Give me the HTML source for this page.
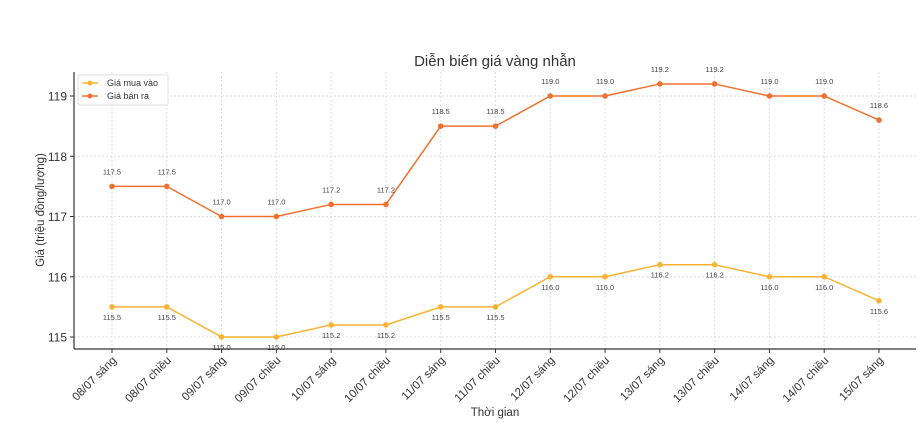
<!DOCTYPE html>
<html><head><meta charset="utf-8"><style>
body{margin:0;background:#fff}
svg{display:block;font-family:"Liberation Sans","DejaVu Sans",sans-serif}
</style></head><body>
<svg id="chart" width="922" height="422">
<text x="495" y="66" text-anchor="middle" font-size="15" fill="#333">Diễn biến giá vàng nhẫn</text>
<text x="495" y="416" text-anchor="middle" font-size="11.5" fill="#333">Thời gian</text>
<text transform="translate(44,210) rotate(-90)" text-anchor="middle" font-size="11.5" fill="#333">Giá (triệu đồng/lượng)</text>
<g id="grid"></g><g id="axes"></g><g id="series"></g>
<g>
<rect x="78" y="75" width="90" height="30" fill="#fff" stroke="#ddd" rx="2"/>
<line x1="82" y1="83" x2="98" y2="83" stroke="#f9b233" stroke-width="1.5"/><circle cx="90" cy="83" r="2.5" fill="#f9b233"/>
<text x="107" y="86" font-size="9" fill="#333">Giá mua vào</text>
<line x1="82" y1="96" x2="98" y2="96" stroke="#f07030" stroke-width="1.5"/><circle cx="90" cy="96" r="2.5" fill="#f07030"/>
<text x="107" y="99" font-size="9" fill="#333">Giá bán ra</text>
</g>
</svg>
<script>
const categories=["08/07 sáng","08/07 chiều","09/07 sáng","09/07 chiều","10/07 sáng","10/07 chiều","11/07 sáng","11/07 chiều","12/07 sáng","12/07 chiều","13/07 sáng","13/07 chiều","14/07 sáng","14/07 chiều","15/07 sáng"];
const buyValues=[115.5,115.5,115.0,115.0,115.2,115.2,115.5,115.5,116.0,116.0,116.2,116.2,116.0,116.0,115.6];
const sellValues=[117.5,117.5,117.0,117.0,117.2,117.2,118.5,118.5,119.0,119.0,119.2,119.2,119.0,119.0,118.6];
const yTicks=[115,116,117,118,119];
const NS="http://www.w3.org/2000/svg";
const L=74,R=916,T=72,B=349;
const x=i=>112+i*(879-112)/(categories.length-1);
const y=v=>337-(v-115)*60.25;
function mk(tag,attrs,parent){const e=document.createElementNS(NS,tag);for(const k in attrs)e.setAttribute(k,attrs[k]);parent.appendChild(e);return e;}
const grid=document.getElementById('grid'),axes=document.getElementById('axes'),ser=document.getElementById('series');
yTicks.forEach(t=>{
 const g=mk('line',{x1:L,x2:R,y1:y(t),y2:y(t),stroke:'#ddd','stroke-dasharray':'2,2'},grid);
 
 
 mk('line',{x1:L-4,x2:L,y1:y(t),y2:y(t),stroke:'#333'},axes);
 const tx=mk('text',{x:L-7,y:y(t)+4.5,'text-anchor':'end','font-size':'12',fill:'#333'},axes);
 tx.textContent=t;
 
 
});
categories.forEach((c,i)=>{
 const g=mk('line',{x1:x(i),x2:x(i),y1:T,y2:B,stroke:'#ddd','stroke-dasharray':'2,2'},grid);
 
 
 mk('line',{x1:x(i),x2:x(i),y1:B,y2:B+4,stroke:'#333'},axes);
 const tx=mk('text',{transform:`translate(${x(i)+5},${B+12}) rotate(-45)`,'text-anchor':'end','font-size':'11.5',fill:'#333'},axes);
 tx.textContent=c;
 
 
});
mk('line',{x1:L,x2:L,y1:T,y2:B,stroke:'#333','stroke-width':1.2},axes);
mk('line',{x1:L,x2:R,y1:B,y2:B,stroke:'#333','stroke-width':1.2},axes);
function draw(vals,color,name,above){
 const p=mk('polyline',{points:vals.map((v,i)=>x(i)+','+y(v)).join(' '),fill:'none',stroke:color,'stroke-width':1.5},ser);
 
 
 vals.forEach((v,i)=>{
  const c=mk('circle',{cx:x(i),cy:y(v),r:2.8,fill:color},ser);
  
  
  const t=mk('text',{x:x(i),y:above?y(v)-12:y(v)+13,'text-anchor':'middle','font-size':'7.5',fill:'#444'},ser);
  t.textContent=v.toFixed(1);
  
  
 });
}
draw(buyValues,'#f9b233','buy',false);
draw(sellValues,'#f07030','sell',true);
</script>
</body></html>
